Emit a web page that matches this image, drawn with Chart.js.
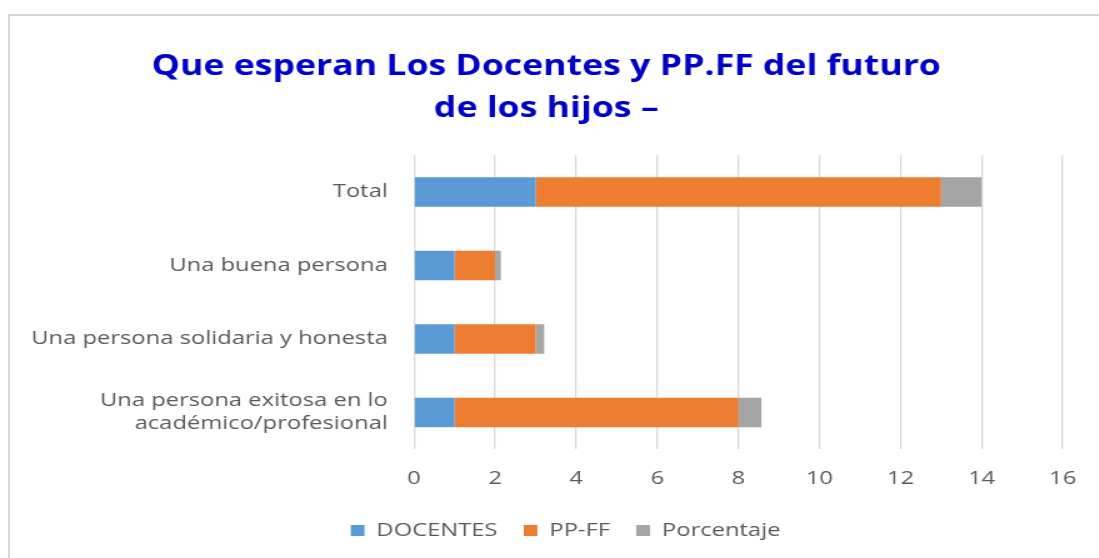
<!DOCTYPE html>
<html>
<head>
<meta charset="utf-8">
<script src="https://cdn.jsdelivr.net/npm/chart.js@4/dist/chart.umd.min.js"></script>
<style>
  html, body { margin: 0; padding: 0; background: #ffffff; overflow: hidden; width: 1099px; height: 558px; }
  #frame { position: absolute; left: 8px; top: 14px; width: 1200px; height: 700px; border: 2px solid #d9d9d9; box-sizing: border-box; }
  #wrap { position: absolute; left: 0; top: 0; width: 879px; height: 558px; transform: scaleX(1.25); transform-origin: 0 0; }
</style>
</head>
<body>
<div id="frame"></div>
<div id="wrap"><canvas id="c"></canvas></div>
<script>
const categories = ['Total', 'Una buena persona', 'Una persona solidaria y honesta', ['Una persona exitosa en lo', 'académico/profesional']];
const seriesNames = ['DOCENTES', 'PP-FF', 'Porcentaje'];
const docentes = [3, 1, 1, 1];
const ppff = [10, 1, 2, 7];
const porcentaje = [1, 0.14, 0.21, 0.57];
const titleLines = ['Que esperan Los Docentes y PP.FF del futuro', 'de los hijos –'];
const xMin = 0, xMax = 16, xStep = 2;

const colors = ['#5B9BD5', '#ED7D31', '#A5A5A5'];
const labelFont = 'Open Sans';

// Shift title and legend like the Excel layout
const shiftBlocks = {
  id: 'shiftBlocks',
  afterLayout(chart) {
    if (chart.titleBlock) {
      chart.titleBlock.left += 3.5; chart.titleBlock.right += 3.5;
      chart.titleBlock.top += 1; chart.titleBlock.bottom += 1;
    }
    if (chart.legend) {
      chart.legend.left += 19; chart.legend.right += 19;
      chart.legend.top -= 8; chart.legend.bottom -= 8;
    }
  }
};

new Chart(document.getElementById('c'), {
  type: 'bar',
  data: {
    labels: categories,
    datasets: [
      { label: seriesNames[0], data: docentes, backgroundColor: colors[0] },
      { label: seriesNames[1], data: ppff, backgroundColor: colors[1] },
      { label: seriesNames[2], data: porcentaje, backgroundColor: colors[2] }
    ]
  },
  plugins: [shiftBlocks],
  options: {
    indexAxis: 'y',
    responsive: true,
    maintainAspectRatio: false,
    animation: false,
    datasets: { bar: { barPercentage: 0.4, categoryPercentage: 1.0 } },
    layout: { padding: { left: 4, right: 16, top: 45, bottom: 0 } },
    plugins: {
      title: {
        display: true,
        text: titleLines,
        color: '#0000C8',
        font: { family: labelFont, size: 28.5, weight: 'bold', lineHeight: 1.47 },
        padding: { top: 0, bottom: 26.5 }
      },
      legend: {
        position: 'bottom',
        labels: {
          color: '#595959',
          font: { family: labelFont, size: 19 },
          boxWidth: 11, boxHeight: 11,
          padding: 21
        }
      },
      tooltip: { enabled: false }
    },
    scales: {
      x: {
        stacked: true,
        min: xMin, max: xMax,
        ticks: { stepSize: xStep, color: '#595959', font: { family: labelFont, size: 19 }, padding: 18 },
        grid: { color: '#d9d9d9', lineWidth: 1.3, drawTicks: false },
        border: { display: false }
      },
      y: {
        stacked: true,
        ticks: { color: '#595959', font: { family: labelFont, size: 19 }, padding: 21 },
        grid: { display: false, drawTicks: false },
        border: { display: false }
      }
    }
  }
});
</script>
</body>
</html>
